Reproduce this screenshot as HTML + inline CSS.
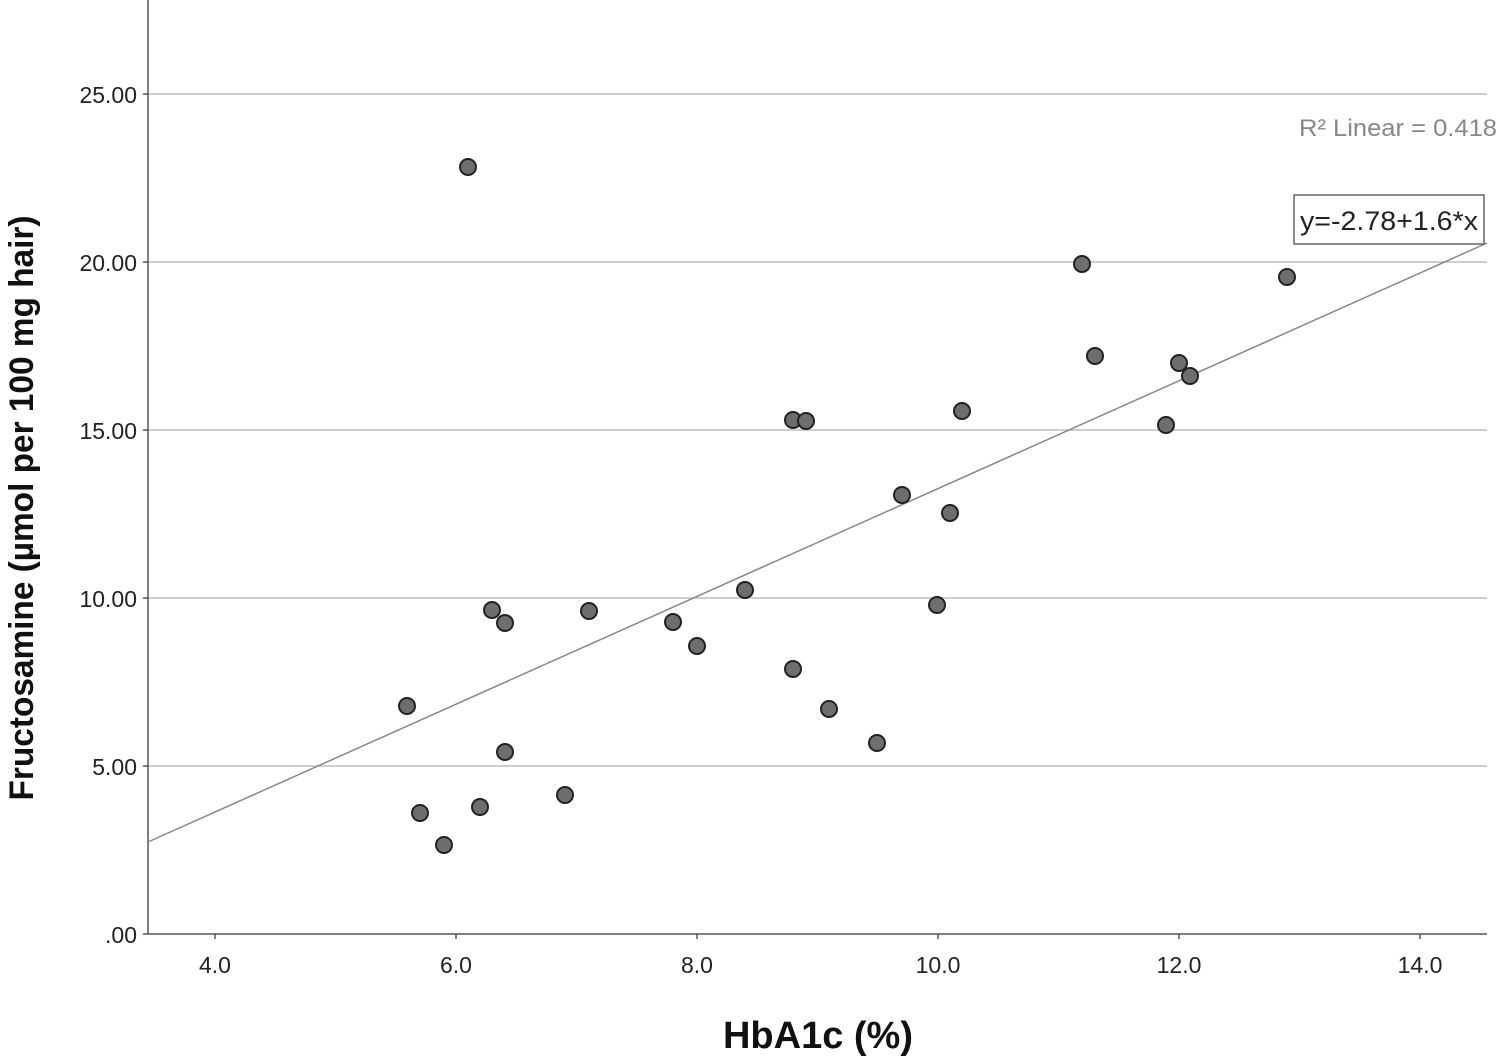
<!DOCTYPE html>
<html><head><style>body{margin:0;background:#fff}svg{display:block}</style></head><body>
<svg width="1499" height="1058" xmlns="http://www.w3.org/2000/svg" font-family="Liberation Sans, sans-serif">
<g stroke="#bdbdbd" stroke-width="1.5">
<line x1="148" y1="94" x2="1487" y2="94"/><line x1="148" y1="262" x2="1487" y2="262"/><line x1="148" y1="430" x2="1487" y2="430"/><line x1="148" y1="598" x2="1487" y2="598"/><line x1="148" y1="766" x2="1487" y2="766"/>
</g>
<line x1="148" y1="0" x2="148" y2="934" stroke="#555" stroke-width="1.5"/>
<line x1="148" y1="934" x2="1487" y2="934" stroke="#555" stroke-width="1.5"/>
<g stroke="#555" stroke-width="1.5">
<line x1="143" y1="94" x2="148" y2="94"/><line x1="143" y1="262" x2="148" y2="262"/><line x1="143" y1="430" x2="148" y2="430"/><line x1="143" y1="598" x2="148" y2="598"/><line x1="143" y1="766" x2="148" y2="766"/><line x1="143" y1="934" x2="148" y2="934"/>
<line x1="215" y1="934" x2="215" y2="939"/><line x1="456" y1="934" x2="456" y2="939"/><line x1="697" y1="934" x2="697" y2="939"/><line x1="938" y1="934" x2="938" y2="939"/><line x1="1179" y1="934" x2="1179" y2="939"/><line x1="1420" y1="934" x2="1420" y2="939"/>
</g>
<g font-size="23" fill="#222" text-anchor="end">
<text x="137" y="103">25.00</text><text x="137" y="271">20.00</text><text x="137" y="439">15.00</text><text x="137" y="607">10.00</text><text x="137" y="775">5.00</text><text x="137" y="943">.00</text>
</g>
<g font-size="23" fill="#222" text-anchor="middle">
<text x="215" y="973">4.0</text><text x="456" y="973">6.0</text><text x="697" y="973">8.0</text><text x="938" y="973">10.0</text><text x="1179" y="973">12.0</text><text x="1420" y="973">14.0</text>
</g>
<text x="818" y="1048" font-size="38" font-weight="bold" text-anchor="middle" fill="#111">HbA1c (%)</text>
<text transform="translate(33,508) rotate(-90)" font-size="34" font-weight="bold" text-anchor="middle" fill="#111" textLength="585" lengthAdjust="spacingAndGlyphs">Fructosamine (µmol per 100 mg hair)</text>
<line x1="148" y1="842" x2="1487" y2="243" stroke="#888" stroke-width="1.5"/>
<text x="1497" y="136" font-size="24" fill="#888" text-anchor="end" textLength="198" lengthAdjust="spacingAndGlyphs">R² Linear = 0.418</text>
<rect x="1294" y="195" width="190" height="49" fill="#fff" stroke="#666" stroke-width="1.5"/>
<text x="1300" y="230" font-size="27" fill="#222" textLength="178" lengthAdjust="spacingAndGlyphs">y=-2.78+1.6*x</text>
<g fill="#6e6e6e" stroke="#222" stroke-width="2">
<circle cx="468" cy="167" r="8"/><circle cx="1082" cy="264" r="8"/><circle cx="1287" cy="277" r="8"/><circle cx="1095" cy="356" r="8"/><circle cx="1179" cy="363" r="8"/><circle cx="1190" cy="376" r="8"/><circle cx="962" cy="411" r="8"/><circle cx="793" cy="420" r="8"/><circle cx="806" cy="421" r="8"/><circle cx="1166" cy="425" r="8"/><circle cx="902" cy="495" r="8"/><circle cx="950" cy="513" r="8"/><circle cx="745" cy="590" r="8"/><circle cx="937" cy="605" r="8"/><circle cx="492" cy="610" r="8"/><circle cx="589" cy="611" r="8"/><circle cx="505" cy="623" r="8"/><circle cx="673" cy="622" r="8"/><circle cx="697" cy="646" r="8"/><circle cx="793" cy="669" r="8"/><circle cx="407" cy="706" r="8"/><circle cx="829" cy="709" r="8"/><circle cx="877" cy="743" r="8"/><circle cx="505" cy="752" r="8"/><circle cx="565" cy="795" r="8"/><circle cx="480" cy="807" r="8"/><circle cx="420" cy="813" r="8"/><circle cx="444" cy="845" r="8"/>
</g>
</svg>
</body></html>
